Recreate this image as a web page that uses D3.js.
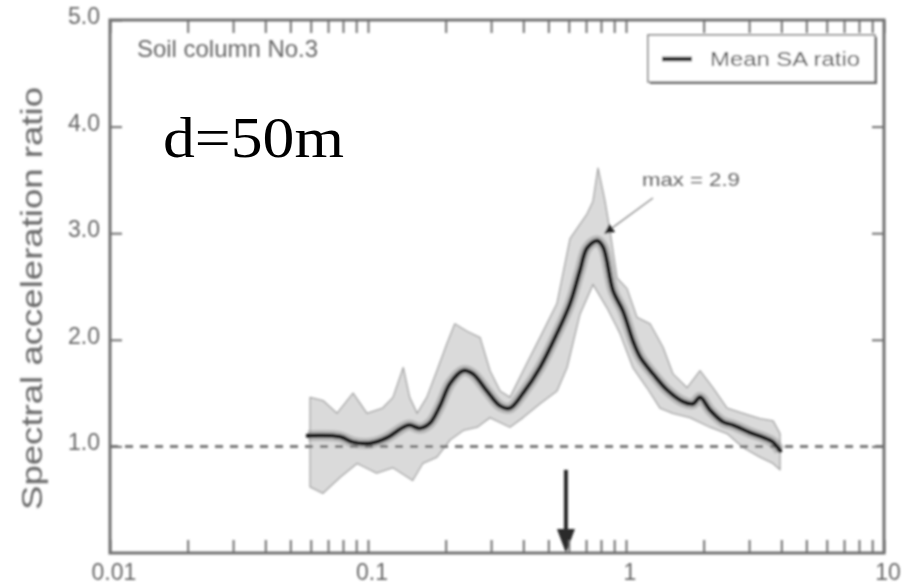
<!DOCTYPE html>
<html>
<head>
<meta charset="utf-8">
<script src="https://cdn.jsdelivr.net/npm/d3@7"></script>
<style>
  html, body { margin: 0; padding: 0; background: #fff; }
  svg { display: block; }
</style>
</head>
<body>
<svg id="chart" width="909" height="588"></svg>
<script>
// ---------------- data ----------------
const chartTitle = "Soil column No.3";
const depthLabel = "d=50m";
const yTitle = "Spectral acceleration ratio";
const legendLabel = "Mean SA ratio";
const maxLabel = "max = 2.9";

const xTickValues = [0.01, 0.1, 1, 10];
const xTickLabels = ["0.01", "0.1", "1", "10"];
const yTickValues = [1, 2, 3, 4, 5];
const yTickLabels = ["1.0", "2.0", "3.0", "4.0", "5.0"];

// mean spectral acceleration ratio (period [s], ratio)
const meanPeriod = [0.0585, 0.078, 0.0875, 0.102, 0.118, 0.137, 0.145, 0.159, 0.174, 0.190,
  0.208, 0.234, 0.255, 0.289, 0.325, 0.355, 0.399, 0.464, 0.54, 0.607,
  0.663, 0.706, 0.772, 0.815, 0.891, 0.973, 1.064, 1.133, 1.273, 1.442,
  1.663, 1.819, 1.936, 2.117, 2.377, 2.60, 3.026, 3.52, 3.715, 3.95];
const meanRatio = [1.10, 1.09, 1.04, 1.03, 1.08, 1.18, 1.20, 1.17, 1.22, 1.38,
  1.59, 1.71, 1.68, 1.52, 1.38, 1.36, 1.50, 1.74, 2.06, 2.34,
  2.65, 2.86, 2.93, 2.87, 2.46, 2.27, 1.99, 1.84, 1.68, 1.53,
  1.42, 1.40, 1.46, 1.34, 1.23, 1.20, 1.13, 1.07, 1.04, 0.96];

// upper envelope of individual records
const upperPeriod = [0.0596, 0.0669, 0.0758, 0.0875, 0.0991, 0.114, 0.125, 0.137, 0.145, 0.155,
  0.169, 0.185, 0.202, 0.217, 0.242, 0.272, 0.297, 0.325, 0.355, 0.413,
  0.464, 0.54, 0.607, 0.706, 0.745, 0.779, 0.829, 0.867, 0.923, 1.009,
  1.103, 1.239, 1.391, 1.521, 1.724, 1.936, 2.174, 2.464, 2.841, 3.307,
  3.715, 3.954];
const upperRatio = [1.46, 1.43, 1.31, 1.50, 1.31, 1.36, 1.46, 1.74, 1.46, 1.31,
  1.46, 1.71, 1.96, 2.15, 2.08, 2.02, 1.71, 1.52, 1.46, 1.78,
  2.02, 2.34, 2.95, 3.18, 3.30, 3.61, 3.30, 3.02, 2.58, 2.48,
  2.21, 2.15, 1.93, 1.68, 1.55, 1.71, 1.55, 1.36, 1.31, 1.26,
  1.24, 1.12];

// lower envelope of individual records
const lowerPeriod = [0.0596, 0.0669, 0.078, 0.0907, 0.108, 0.125, 0.149, 0.163, 0.185, 0.208,
  0.234, 0.265, 0.297, 0.355, 0.399, 0.464, 0.54, 0.591, 0.663, 0.745,
  0.844, 0.948, 1.064, 1.206, 1.355, 1.521, 1.771, 2.117, 2.464, 2.841,
  3.307, 3.715, 3.954];
const lowerRatio = [0.62, 0.56, 0.71, 0.84, 0.75, 0.80, 0.68, 0.84, 0.90, 1.06,
  1.15, 1.18, 1.27, 1.18, 1.27, 1.40, 1.52, 1.74, 2.24, 2.52,
  2.30, 2.06, 1.74, 1.55, 1.36, 1.31, 1.27, 1.18, 1.12, 0.99,
  0.90, 0.84, 0.78];

const referenceRatio = 1.0;           // dashed line
const markedPeriod = 0.585;           // down arrow
const markedArrowTop = 0.78;
const maxLabelAt = [1.153, 3.44];     // period, ratio (text start)
const maxLeaderFrom = [1.272, 3.33];
const maxLeaderTo = [0.829, 3.00];

// ---------------- drawing ----------------
const sans = "'Liberation Sans', Arial, Helvetica, sans-serif";
const serif = "'Liberation Serif', 'Times New Roman', Times, serif";
const svg = d3.select("#chart");
const W = 909, H = 588;
const m = {left: 110, right: 25, top: 20, bottom: 35};
const x = d3.scaleLog().domain([0.01, 10]).range([m.left, W - m.right]);
const y = d3.scaleLinear().domain([0, 5]).range([H - m.bottom, m.top]);

const defs = svg.append("defs");
defs.append("filter").attr("id", "soft").attr("x", "-5%").attr("y", "-5%").attr("width", "110%").attr("height", "110%")
  .append("feGaussianBlur").attr("stdDeviation", 0.8);
defs.append("marker").attr("id", "ah").attr("viewBox", "0 0 10 10").attr("refX", 9).attr("refY", 5)
  .attr("markerWidth", 12).attr("markerHeight", 10).attr("markerUnits", "userSpaceOnUse").attr("orient", "auto")
  .append("path").attr("d", "M0,0 L10,5 L0,10 z").attr("fill", "#222");

const grey = "#717171";
const g = svg.append("g").attr("filter", "url(#soft)");

// band (envelope of records)
const bandPts = upperPeriod.map((t, i) => [t, upperRatio[i]])
  .concat(lowerPeriod.map((t, i) => [t, lowerRatio[i]]).reverse());
const polyLine = d3.line().x(d => x(d[0])).y(d => y(d[1]));
g.append("path").attr("d", polyLine(bandPts) + "Z")
  .attr("fill", "#dadada").attr("stroke", "#a3a3a3").attr("stroke-width", 1.3).attr("stroke-linejoin", "round");

// dashed reference line
g.append("line").attr("x1", x(0.01)).attr("x2", x(10)).attr("y1", y(referenceRatio)).attr("y2", y(referenceRatio))
  .attr("stroke", "#7a7a7a").attr("stroke-width", 3).attr("stroke-dasharray", "8,7");

// mean curve with darker halo (overlapping records)
const meanPts = meanPeriod.map((t, i) => [t, meanRatio[i]]);
const meanLine = d3.line().x(d => x(d[0])).y(d => y(d[1])).curve(d3.curveCatmullRom.alpha(0.5));
g.append("path").attr("d", meanLine(meanPts)).attr("fill", "none")
  .attr("stroke", "#8c8c8c").attr("stroke-opacity", 0.45).attr("stroke-width", 11).attr("stroke-linejoin", "round");
g.append("path").attr("d", meanLine(meanPts)).attr("fill", "none")
  .attr("stroke", "#1c1c1c").attr("stroke-width", 4.5).attr("stroke-linejoin", "round").attr("stroke-linecap", "round");

// max annotation
g.append("line")
  .attr("x1", x(maxLeaderFrom[0])).attr("y1", y(maxLeaderFrom[1]))
  .attr("x2", x(maxLeaderTo[0])).attr("y2", y(maxLeaderTo[1]))
  .attr("stroke", "#8a8a8a").attr("stroke-width", 1.3).attr("marker-end", "url(#ah)");
g.append("text").attr("x", x(maxLabelAt[0])).attr("y", y(maxLabelAt[1]))
  .style("font-family", sans).attr("font-size", 19).attr("fill", "#666")
  .attr("textLength", 98).attr("lengthAdjust", "spacingAndGlyphs")
  .text(maxLabel);

// down arrow at marked period
const ax = x(markedPeriod), ab = y(0), at = y(markedArrowTop);
g.append("line").attr("x1", ax).attr("x2", ax).attr("y1", at).attr("y2", ab - 18)
  .attr("stroke", "#2a2a2a").attr("stroke-width", 4);
g.append("path").attr("d", `M${ax - 9},${ab - 24} L${ax + 9},${ab - 24} L${ax},${ab} Z`).attr("fill", "#2a2a2a");

// axes
const minorTicks = [];
[0.01, 0.1, 1].forEach(dec => { for (let k = 1; k <= 9; k++) minorTicks.push(+(dec * k).toPrecision(3)); });
minorTicks.push(10);
const xLab = new Map(xTickValues.map((v, i) => [v, xTickLabels[i]]));
const yLab = new Map(yTickValues.map((v, i) => [v, yTickLabels[i]]));

const gb = g.append("g").attr("transform", `translate(0,${y(0)})`)
  .call(d3.axisBottom(x).tickValues(minorTicks).tickSize(-13).tickSizeOuter(0).tickPadding(11)
    .tickFormat(d => xLab.has(d) ? xLab.get(d) : ""));
const gt = g.append("g").attr("transform", `translate(0,${y(5)})`)
  .call(d3.axisTop(x).tickValues(minorTicks).tickSize(-13).tickSizeOuter(0).tickFormat(""));
const gl = g.append("g").attr("transform", `translate(${x(0.01)},0)`)
  .call(d3.axisLeft(y).tickValues(yTickValues).tickSize(-12).tickSizeOuter(0).tickPadding(10)
    .tickFormat(d => yLab.get(d)));
const gr = g.append("g").attr("transform", `translate(${x(10)},0)`)
  .call(d3.axisRight(y).tickValues([1, 2, 3, 4]).tickSize(-12).tickSizeOuter(0).tickFormat(""));

[gb, gt, gl, gr].forEach(a => {
  a.select(".domain").remove();
  a.selectAll(".tick line").attr("stroke", grey).attr("stroke-width", 2);
  a.selectAll(".tick text").attr("fill", "#666").attr("font-size", 23).style("font-family", sans);
});
gl.selectAll(".tick text").attr("dy", "0.15em");
gb.selectAll(".tick text").attr("dy", "0.71em").attr("dx", "0.15em");

// frame
g.append("rect").attr("x", x(0.01)).attr("y", y(5)).attr("width", x(10) - x(0.01)).attr("height", y(0) - y(5))
  .attr("fill", "none").attr("stroke", grey).attr("stroke-width", 3);

// chart title
g.append("text").attr("x", 137).attr("y", 57).attr("font-size", 24).attr("fill", "#666")
  .style("font-family", sans)
  .attr("textLength", 181).attr("lengthAdjust", "spacingAndGlyphs").text(chartTitle);

// y axis title
g.append("text").attr("transform", `translate(42,${(y(0) + y(5)) / 2 + 12}) rotate(-90)`)
  .attr("text-anchor", "middle").attr("font-size", 30).attr("fill", "#666")
  .style("font-family", sans)
  .attr("textLength", 423).attr("lengthAdjust", "spacingAndGlyphs").text(yTitle);

// legend
const lx = 648, ly = 35, lw = 227, lh = 47;
g.append("rect").attr("x", lx + 2).attr("y", ly + 2).attr("width", lw).attr("height", lh).attr("fill", "#6a6a6a");
g.append("rect").attr("x", lx).attr("y", ly).attr("width", lw).attr("height", lh)
  .attr("fill", "#fff").attr("stroke", "#7a7a7a").attr("stroke-width", 1.5);
g.append("line").attr("x1", lx + 14).attr("x2", lx + 44).attr("y1", ly + 24).attr("y2", ly + 24)
  .attr("stroke", "#1c1c1c").attr("stroke-width", 4.5);
g.append("text").attr("x", lx + 62).attr("y", ly + 31).attr("font-size", 20).attr("fill", "#555")
  .style("font-family", sans)
  .attr("textLength", 150).attr("lengthAdjust", "spacingAndGlyphs").text(legendLabel);

// depth label (overlaid, crisp)
svg.append("text").attr("x", 163).attr("y", 157).attr("font-size", 56)
  .style("font-family", serif).attr("fill", "#000")
  .attr("textLength", 181).attr("lengthAdjust", "spacingAndGlyphs").text(depthLabel);
</script>
</body>
</html>
